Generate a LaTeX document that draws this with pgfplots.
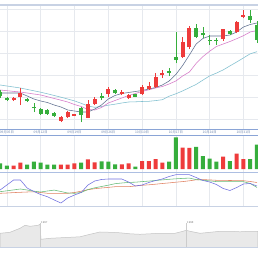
\documentclass[border=0pt]{standalone}
\usepackage{pgfplots}
\usepackage{pgfplotstable}
\pgfplotsset{compat=1.18}
\usepackage{fontspec}
\setmainfont{Liberation Sans}
\newfontfamily\cjk{Noto Sans CJK SC}
\definecolor{upred}{HTML}{EE3B3B}
\definecolor{dngreen}{HTML}{36AE3C}
\definecolor{maA}{HTML}{5F6F8F}
\definecolor{maB}{HTML}{D678C8}
\definecolor{maC}{HTML}{7FBFCF}
\definecolor{indP}{HTML}{6F6FE0}
\definecolor{indG}{HTML}{66BB77}
\definecolor{indO}{HTML}{E08060}
\definecolor{gridc}{HTML}{E6E9EE}
\definecolor{framec}{HTML}{C8D2E4}
\definecolor{stripc}{HTML}{8AA4D6}
\definecolor{labc}{HTML}{7088B0}
\definecolor{navfill}{HTML}{E9E9E9}
\definecolor{navline}{HTML}{C4C4C4}

% candles: i open high low close (price panel units)
\pgfplotstableread{
i o h l c
2 29 32 28 31
3 32 41 24 36
9 8.5 13 7 12
10 11.7 18 11 17.3
11 13.5 15.5 13 14.7
13 11.5 29 11 25
14 25 32 24 30.5
16 35 42 32 39.7
18 35 39 34 36.7
19 30.7 35 30 34
21 35 44 34 41.7
22 39.7 47.3 39 43
23 41.7 56.3 41 52.3
24 54 59 51 56.3
27 72 92.3 71 87
28 82 103 80 101
33 90 100.5 88 99.7
35 97 108 96 107.3
36 112.3 119 110.7 114
}\redc
\pgfplotstableread{
i o h l c
0 37 39 31 33
1 31 32 28 29
4 30 31 27 28
5 22 26 17 21
6 20 21 14 15.5
7 19 20 14.5 15.5
8 16 17 12 13
12 20.7 22.5 7 14
15 33 36 29 31.5
17 39 40 35 35.7
20 34.7 35.5 32 32.3
25 58 61 53 56.5
26 71.7 97.3 65.7 69
29 100.7 105 91 92.3
30 96.3 102.3 90.7 93.7
31 89 94 84 88
32 89 91 84 88
34 98 99 94 95
37 113 119 106 109
38 104 108 86 89
}\greenc
% moving averages
\pgfplotstableread{
i a b t
0 36 39 44
1 36 38.3 43
2 36 37.6 42
3 36 37 41
4 33 36 39.6
5 30 35 38.2
6 28 34 36.8
7 26.5 32.3 35.2
8 24 30.5 33.5
9 22 28.8 31.8
10 19 27 30
11 18 24.5 28.1
12 17 22.5 25.7
13 17 19.5 23
14 20 19 21.7
15 24 21.5 22.5
16 30 26 23.8
17 33.5 28.5 24.8
18 35.5 31 26
19 36.5 33.5 27
20 37.5 35.5 27.2
21 38.5 37.5 27.5
22 40 39.2 27.7
23 41.5 41 28.4
24 44 42.5 29.3
25 48 45 32.8
26 54.5 48 35.2
27 63.5 53 38.1
28 74 57 41.3
29 85 65.6 44.6
30 90.5 72.4 48.9
31 93 77.8 53.1
32 93 82.5 55.9
33 93 85 59.1
34 94 87.5 63.1
35 97 90.3 67
36 102 93.3 71.1
37 104.5 97 75.2
38 106 98.5 77.3
}\ma
% volume
\pgfplotstableread{
i v
2 3.3
3 6.3
9 4.3
10 4.3
11 5.7
13 9.7
14 6.7
18 4.7
19 5.7
21 8
22 8
23 10
24 6.3
27 21.3
28 21
33 12.3
35 15.3
36 10
}\redv
\pgfplotstableread{
i v
0 5.7
1 3.3
4 4.3
5 7.3
6 6.3
7 4.3
8 4.3
12 6.3
15 7.7
16 7.3
17 4.7
20 2.3
25 7.3
26 31.7
29 22
30 13
31 10.3
32 7.3
34 8
37 10
38 24.3
}\greenv
% indicator lines
\pgfplotstableread{
i p g o
0 16 14.3 12.7
1 21 15.2 13
2 26 16.1 13.4
3 26 17 13.7
4 18 16 14
5 14.5 14.8 14.2
6 11.5 14 13.5
7 9.3 15 12.7
8 6 15.9 12.7
9 3 14.5 12.7
10 8 13 12.7
11 11 12.7 13.5
12 13.5 13.5 14.8
13 21 16.5 16.3
14 25 18.2 17.3
15 26.5 19.5 18
16 27 20.8 18.6
17 27 22.3 19.3
18 27 23 19.3
19 24 23.6 19.3
20 20 23.8 20
21 21 24.4 20.7
22 23.5 24.9 21.2
23 25.5 25.5 21.8
24 27 26.1 22.5
25 29.5 26.7 23.1
26 31.3 27.2 23.8
27 31.3 27.6 24.4
28 31.3 27.9 25.2
29 28.5 26.4 26.2
30 25.5 25.8 26.4
31 24 25.1 26.1
32 21.5 24.4 25.7
33 17.5 24.3 25.6
34 15.5 24.3 25.5
35 18.5 24.3 25.4
36 22 24.3 25.3
37 22.5 22.5 24.5
38 20 18.5 23.5
}\ind
% navigator
\pgfplotstableread{
x y
0 14
10 15
20 19
25 22
30 21
38 22
40 23
41 8
50 9
60 9.5
70 10
80 10.5
90 13
100 15.3
110 15
120 14.5
130 13.5
140 13
150 13.5
160 14
175 14
183 16
186 17
190 16
200 14
210 15
220 16
230 16
240 15.5
250 16
258 16
}\nav

\pgfplotsset{
  panel/.style={scale only axis, anchor=south west, width=258pt,
    axis line style={draw=none}, major tick length=0pt,
    xmin=-0.015, xmax=38.15,
    xtick={1,6,11,16,21,26,31,36},
    grid style={gridc, line width=0.5pt}},
  body/.style={draw=none, mark=none, forget plot,
    error bars/.cd, y dir=plus, y explicit, error mark=none,
    error bar style={line width=4pt, draw=#1, solid}},
  wick/.style={draw=none, mark=none, forget plot,
    error bars/.cd, y dir=plus, y explicit, error mark=none,
    error bar style={line width=0.6pt, draw=#1, solid}},
}

\begin{document}
\begin{tikzpicture}
\fill[white] (0,0) rectangle (258pt,258pt);

% price panel
\begin{axis}[panel, at={(0pt,129pt)}, height=124pt, ymin=0, ymax=124,
  xticklabels={09月05日,09月12日,09月19日,09月26日,10月10日,10月17日,10月24日,10月31日},
  xticklabel style={font=\cjk\fontsize{3.3}{4}\selectfont, text=labc, anchor=center, yshift=-3.1pt},
  ytick={10,32,54,76,98,120}, yticklabels={},
  xmajorgrids, ymajorgrids]
\addplot[maC, line width=0.55pt, mark=none] table[x=i, y=t] \ma;
\addplot[maB, line width=0.55pt, mark=none] table[x=i, y=b] \ma;
\addplot[maA, line width=0.55pt, mark=none] table[x=i, y=a] \ma;
\addplot[wick=upred] table[x=i, y=l, y error plus expr=\thisrow{h}-\thisrow{l}] \redc;
\addplot[wick=dngreen] table[x=i, y=l, y error plus expr=\thisrow{h}-\thisrow{l}] \greenc;
\addplot[body=upred] table[x=i, y expr={min(\thisrow{o},\thisrow{c})}, y error plus expr={max(abs(\thisrow{c}-\thisrow{o}),0.8)}] \redc;
\addplot[body=dngreen] table[x=i, y expr={min(\thisrow{o},\thisrow{c})}, y error plus expr={max(abs(\thisrow{c}-\thisrow{o}),0.8)}] \greenc;
\end{axis}

% volume panel
\begin{axis}[panel, at={(0pt,86pt)}, height=36pt, ymin=-3, ymax=33,
  xticklabels={}, ytick=\empty, xmajorgrids]
\addplot[ybar, bar width=4pt, bar shift=0pt, fill=upred, draw=none] table[x=i, y=v] \redv;
\addplot[ybar, bar width=4pt, bar shift=0pt, fill=dngreen, draw=none] table[x=i, y=v] \greenv;
\end{axis}

% indicator panel
\begin{axis}[panel, at={(0pt,52pt)}, height=34pt, ymin=0, ymax=34,
  xticklabels={}, ytick=\empty, xmajorgrids]
\addplot[indO, line width=0.55pt, mark=none] table[x=i, y=o] \ind;
\addplot[indG, line width=0.55pt, mark=none] table[x=i, y=g] \ind;
\addplot[indP, line width=0.55pt, mark=none] table[x=i, y=p] \ind;
\end{axis}

% navigator
\begin{axis}[scale only axis, anchor=south west, at={(0pt,10.7pt)}, width=258pt, height=35pt,
  xmin=0, xmax=258, ymin=0, ymax=35, axis line style={draw=none}, major tick length=0pt,
  xtick=\empty, ytick=\empty]
\addplot[fill=navfill, draw=navline, line width=0.5pt, mark=none] table[x=x, y=y] \nav \closedcycle;
\draw[gray!40, line width=0.5pt] (axis cs:40,0) -- (axis cs:40,24);
\draw[gray!40, line width=0.5pt] (axis cs:186,0) -- (axis cs:186,24);
\node[font=\fontsize{2.8}{3}\selectfont, text=gray, anchor=west, inner sep=0.5pt] at (axis cs:40.5,24.5) {1997};
\node[font=\fontsize{2.8}{3}\selectfont, text=gray, anchor=west, inner sep=0.5pt] at (axis cs:186.5,24.5) {1998};
\end{axis}

% frame lines
\draw[framec, line width=1.2pt] (0,253pt) -- (258pt,253pt);
\draw[stripc, line width=0.6pt] (0,128.7pt) -- (258pt,128.7pt);
\draw[stripc, line width=0.6pt] (0,122.7pt) -- (258pt,122.7pt);
\draw[stripc!70, line width=0.6pt] (0,86pt) -- (258pt,86pt);
\draw[framec, line width=0.6pt] (0,52pt) -- (258pt,52pt);
\draw[framec, line width=1pt] (0,10.7pt) -- (258pt,10.7pt);

\pgfresetboundingbox
\useasboundingbox (0,0) rectangle (258pt,258pt);
\end{tikzpicture}
\end{document}
